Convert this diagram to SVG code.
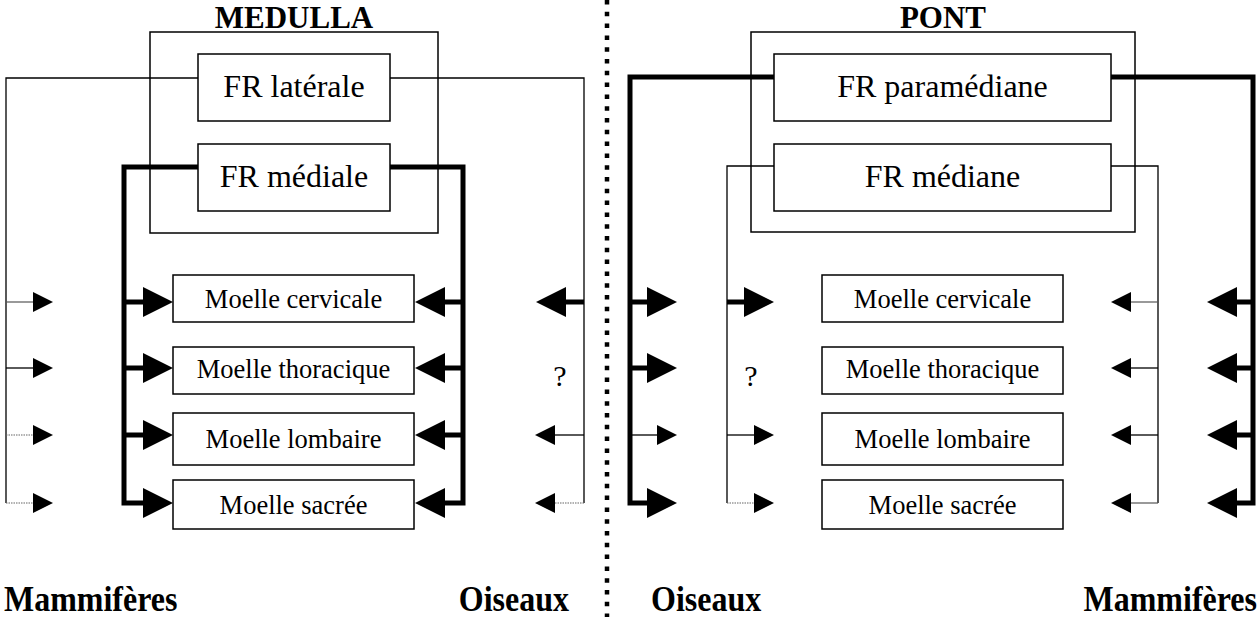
<svg xmlns="http://www.w3.org/2000/svg" xmlns:xlink="http://www.w3.org/1999/xlink" width="1258" height="617" viewBox="0 0 1258 617">
<style>
.box{fill:#fff;stroke:#000;stroke-width:1.5}
.outer{fill:none;stroke:#000;stroke-width:1.5}
.thin{fill:none;stroke:#000;stroke-width:1.3}
.gray{fill:none;stroke:#555;stroke-width:1.2}
.dot{fill:none;stroke:#666;stroke-width:1.2;stroke-dasharray:1.5 1}
.thick{fill:none;stroke:#000;stroke-width:5}
.sep{fill:none;stroke:#000;stroke-width:4.5;stroke-dasharray:4.5 7.3}
.fr{font-family:"Liberation Serif","Times New Roman",serif;font-size:32px;text-anchor:middle;fill:#000}
.mo{font-family:"Liberation Serif","Times New Roman",serif;font-size:26.5px;text-anchor:middle;fill:#000}
.q{font-family:"Liberation Serif","Times New Roman",serif;font-size:30px;text-anchor:middle;fill:#000}
.ti{font-family:"Liberation Serif","Times New Roman",serif;font-size:32px;font-weight:bold;fill:#000}
.hd{font-family:"Liberation Serif","Times New Roman",serif;font-size:31px;font-weight:bold;fill:#000;text-anchor:middle}
</style>
<defs>
<path id="aL" d="M0,0 L-30,-15 L-30,15 Z" fill="#000"/>
<path id="aM" d="M0,0 L-20,-10 L-20,10 Z" fill="#000"/>
</defs>

<line class="sep" x1="607" y1="0" x2="607" y2="617"/>

<g id="connectors">
<!-- MEDULLA: FR laterale thin -->
<path class="thin" d="M198,78 H6 V503"/>
<path class="thin" d="M390,78 H584 V503"/>
<path class="gray" d="M6,302 H35"/>
<path class="thin" d="M6,368 H35"/>
<path class="dot" d="M6,435 H35"/>
<path class="dot" d="M6,503 H35"/>
<use xlink:href="#aM" transform="translate(53,302)"/>
<use xlink:href="#aM" transform="translate(53,368)"/>
<use xlink:href="#aM" transform="translate(53,435)"/>
<use xlink:href="#aM" transform="translate(53,503)"/>
<path class="thick" d="M584,302 H564"/>
<use xlink:href="#aL" transform="translate(536,302) scale(-1,1)"/>
<path class="thin" d="M584,435 H553"/>
<use xlink:href="#aM" transform="translate(535,435) scale(-1,1)"/>
<path class="dot" d="M584,503 H553"/>
<use xlink:href="#aM" transform="translate(535,503) scale(-1,1)"/>
<!-- MEDULLA: FR mediale thick -->
<path class="thick" d="M198,167 H124 V503 H146"/>
<path class="thick" d="M124,302 H146 M124,368 H146 M124,435 H146"/>
<use xlink:href="#aL" transform="translate(173,302)"/>
<use xlink:href="#aL" transform="translate(173,368)"/>
<use xlink:href="#aL" transform="translate(173,435)"/>
<use xlink:href="#aL" transform="translate(173,503)"/>
<path class="thick" d="M390,167 H463 V503 H442"/>
<path class="thick" d="M463,302 H442 M463,368 H442 M463,435 H442"/>
<use xlink:href="#aL" transform="translate(415,302) scale(-1,1)"/>
<use xlink:href="#aL" transform="translate(415,368) scale(-1,1)"/>
<use xlink:href="#aL" transform="translate(415,435) scale(-1,1)"/>
<use xlink:href="#aL" transform="translate(415,503) scale(-1,1)"/>

<!-- PONT: FR paramediane thick -->
<path class="thick" d="M774,77 H630 V503 H650"/>
<path class="thick" d="M630,302 H650 M630,368 H650"/>
<path class="thin" d="M630,435 H660"/>
<use xlink:href="#aL" transform="translate(677,302)"/>
<use xlink:href="#aL" transform="translate(677,368)"/>
<use xlink:href="#aM" transform="translate(677,435)"/>
<use xlink:href="#aL" transform="translate(677,503)"/>
<path class="thick" d="M1111,77 H1253 V503 H1234"/>
<path class="thick" d="M1253,302 H1234 M1253,368 H1234 M1253,435 H1234"/>
<use xlink:href="#aL" transform="translate(1207,302) scale(-1,1)"/>
<use xlink:href="#aL" transform="translate(1207,368) scale(-1,1)"/>
<use xlink:href="#aL" transform="translate(1207,435) scale(-1,1)"/>
<use xlink:href="#aL" transform="translate(1207,503) scale(-1,1)"/>
<!-- PONT: FR mediane thin -->
<path class="thin" d="M774,166 H727 V503"/>
<path class="thick" d="M727,302 H747"/>
<use xlink:href="#aL" transform="translate(774,302)"/>
<path class="thin" d="M727,435 H757"/>
<use xlink:href="#aM" transform="translate(774,435)"/>
<path class="dot" d="M727,503 H757"/>
<use xlink:href="#aM" transform="translate(774,503)"/>
<path class="thin" d="M1111,166 H1158 V503"/>
<path class="gray" d="M1158,302 H1129"/>
<path class="thin" d="M1158,368 H1129"/>
<path class="thin" d="M1158,435 H1129"/>
<path class="gray" d="M1158,503 H1129"/>
<use xlink:href="#aM" transform="translate(1111,302) scale(-1,1)"/>
<use xlink:href="#aM" transform="translate(1111,368) scale(-1,1)"/>
<use xlink:href="#aM" transform="translate(1111,435) scale(-1,1)"/>
<use xlink:href="#aM" transform="translate(1111,503) scale(-1,1)"/>
</g>

<g id="medulla">
<rect class="outer" x="150" y="32" width="288" height="201"/>
<text class="hd" x="294" y="28">MEDULLA</text>
</g>
<g id="fr-laterale">
<rect class="box" x="198" y="54" width="192" height="67"/>
<text class="fr" x="294" y="97">FR latérale</text>
</g>
<g id="fr-mediale">
<rect class="box" x="198" y="144" width="192" height="67"/>
<text class="fr" x="294" y="187">FR médiale</text>
</g>
<g id="m-cervicale-l">
<rect class="box" x="173" y="275" width="241" height="47"/>
<text class="mo" x="293.5" y="308">Moelle cervicale</text>
</g>
<g id="m-thoracique-l">
<rect class="box" x="173" y="347" width="241" height="47"/>
<text class="mo" x="293.5" y="378">Moelle thoracique</text>
</g>
<g id="m-lombaire-l">
<rect class="box" x="173" y="413" width="241" height="52"/>
<text class="mo" x="293.5" y="448">Moelle lombaire</text>
</g>
<g id="m-sacree-l">
<rect class="box" x="173" y="480" width="241" height="49"/>
<text class="mo" x="293.5" y="514">Moelle sacrée</text>
</g>
<text class="q" x="560" y="386">?</text>

<g id="pont">
<rect class="outer" x="751" y="32" width="384" height="200"/>
<text class="hd" x="943" y="28">PONT</text>
</g>
<g id="fr-paramediane">
<rect class="box" x="774" y="54" width="337" height="67"/>
<text class="fr" x="942.5" y="97">FR paramédiane</text>
</g>
<g id="fr-mediane">
<rect class="box" x="774" y="144" width="337" height="67"/>
<text class="fr" x="942.5" y="187">FR médiane</text>
</g>
<g id="m-cervicale-r">
<rect class="box" x="822" y="275" width="241" height="47"/>
<text class="mo" x="942.5" y="308">Moelle cervicale</text>
</g>
<g id="m-thoracique-r">
<rect class="box" x="822" y="347" width="241" height="47"/>
<text class="mo" x="942.5" y="378">Moelle thoracique</text>
</g>
<g id="m-lombaire-r">
<rect class="box" x="822" y="413" width="241" height="52"/>
<text class="mo" x="942.5" y="448">Moelle lombaire</text>
</g>
<g id="m-sacree-r">
<rect class="box" x="822" y="480" width="241" height="49"/>
<text class="mo" x="942.5" y="514">Moelle sacrée</text>
</g>
<text class="q" x="751" y="386">?</text>

<g id="labels">
<text class="ti" transform="translate(4,611) scale(1,1.15)">Mammifères</text>
<text class="ti" text-anchor="end" transform="translate(569,611) scale(1,1.15)">Oiseaux</text>
<text class="ti" transform="translate(651,611) scale(1,1.15)">Oiseaux</text>
<text class="ti" text-anchor="end" transform="translate(1257,611) scale(1,1.15)">Mammifères</text>
</g>
</svg>
